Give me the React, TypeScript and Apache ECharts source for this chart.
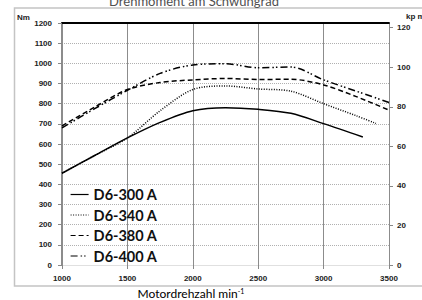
import React, { useEffect, useRef } from "react";
import * as echarts from "echarts";

const titleText = "Drehmoment am Schwungrad";
const xName = "Motordrehzahl min";
const leftUnit = "Nm";
const rightUnit = "kp m";

const rpm300 = [1000, 1250, 1500, 1750, 2000, 2250, 2500, 2750, 3000, 3300];
const nm300 = [455, 543, 630, 707, 765, 780, 772, 752, 701, 635];

const rpm340 = [1000, 1250, 1500, 1750, 2000, 2250, 2500, 2750, 3000, 3250, 3400];
const nm340 = [455, 543, 630, 765, 870, 888, 873, 862, 800, 740, 702];

const rpm380 = [1000, 1250, 1500, 1750, 2000, 2250, 2500, 2750, 3000, 3250, 3500];
const nm380 = [690, 783, 870, 905, 918, 925, 920, 921, 893, 835, 768];

const rpm400 = [1000, 1250, 1500, 1750, 2000, 2250, 2500, 2750, 3000, 3250, 3500];
const nm400 = [680, 775, 866, 950, 992, 998, 978, 982, 918, 862, 806];

const names = ["D6-300 A", "D6-340 A", "D6-380 A", "D6-400 A"];
const kpTicks = [0, 20, 40, 60, 80, 100, 120];
const NM_PER_KPM = 9.80665;

const pairs = (xs: number[], ys: number[]) => xs.map((x, i) => [x, ys[i]]);

export default function App() {
  const ref = useRef<HTMLDivElement>(null);
  useEffect(() => {
    if (!ref.current) return;
    const chart = echarts.init(ref.current, null, { renderer: "svg" });
    const font = "Liberation Sans";
    const plain = (v: number) => String(Math.round(v));
    const tickLabel = { fontFamily: font, fontWeight: "bold" as const, fontSize: 8, color: "#222", formatter: plain };
    const lineBase = { color: "#000", width: 1.5 };
    const mk = (name: string, data: number[][], type: any) => ({
      name,
      type: "line",
      data,
      symbol: "none",
      smooth: 0.3,
      xAxisIndex: 0,
      yAxisIndex: 0,
      lineStyle: { ...lineBase, type },
      itemStyle: { color: "#000" },
    });
    chart.setOption({
      animation: false,
      backgroundColor: "#fff",
      grid: { left: 62, right: 33, top: 23, bottom: 35 },
      xAxis: [
        {
          type: "value",
          min: 1000,
          max: 3500,
          interval: 500,
          axisLine: { show: true, lineStyle: { color: "#e0e0e0", width: 1 } },
          axisTick: { show: true, length: 4, lineStyle: { color: "#888" } },
          axisLabel: { ...tickLabel, margin: 9 },
          splitLine: { show: true, lineStyle: { color: "#8c8c8c", width: 1 } },
        },
        {
          type: "value",
          position: "top",
          min: 1000,
          max: 3500,
          axisLine: { show: true, onZero: false, lineStyle: { color: "#000", width: 1.8 } },
          axisTick: { show: false },
          axisLabel: { show: false },
          splitLine: { show: false },
        },
      ],
      yAxis: [
        {
          type: "value",
          min: 0,
          max: 1200,
          interval: 100,
          axisLine: { show: true, lineStyle: { color: "#8c8c8c", width: 2 } },
          axisTick: { show: true, length: 4, lineStyle: { color: "#888" } },
          axisLabel: { ...tickLabel, margin: 10 },
          splitLine: { show: true, lineStyle: { color: "#b0b0b0", width: 1, type: [1, 1] } },
        },
        {
          type: "value",
          position: "right",
          min: 0,
          max: 1200 / NM_PER_KPM,
          axisLine: { show: true, lineStyle: { color: "#8c8c8c", width: 1 } },
          axisTick: { show: true, length: 4, customValues: kpTicks, lineStyle: { color: "#888" } },
          axisLabel: { ...tickLabel, margin: 8, customValues: kpTicks },
          splitLine: { show: false },
        },
      ],
      legend: {
        orient: "vertical",
        left: 70,
        top: 187,
        padding: 0,
        itemWidth: 18,
        itemHeight: 14,
        itemGap: 5.5,
        data: names,
        itemStyle: { opacity: 0 },
        lineStyle: { width: 1.2 },
        textStyle: { fontFamily: "Lato", fontWeight: "bold", fontSize: 14.5, color: "#111", lineHeight: 14 },
      },
      series: [
        mk(names[0], pairs(rpm300, nm300), "solid"),
        mk(names[1], pairs(rpm340, nm340), [1, 1.5]),
        mk(names[2], pairs(rpm380, nm380), [5, 3]),
        mk(names[3], pairs(rpm400, nm400), [7, 3, 1.5, 2, 1.5, 3]),
      ],
      graphic: [
        {
          type: "rect",
          shape: { x: 14.5, y: 8, width: 430, height: 278 },
          style: { fill: "none", stroke: "#c4c4c4", lineWidth: 1.5 },
          silent: true,
          z: -1,
        },
        {
          type: "text",
          x: 194,
          y: 1,
          style: { text: titleText, fontFamily: "Lato", fontSize: 13, fill: "#505050", align: "center", verticalAlign: "middle" },
        },
        {
          type: "text",
          x: 191,
          y: 293,
          style: {
            text: "{a|" + xName + "}{b|-1}",
            align: "center",
            verticalAlign: "middle",
            rich: {
              a: { fontFamily: "Lato", fontSize: 12, color: "#404040" },
              b: { fontFamily: "Lato", fontSize: 7, color: "#404040", verticalAlign: "top", padding: [0, 0, 4, 0] },
            },
          },
        },
        {
          type: "text",
          x: 17,
          y: 17,
          style: { text: leftUnit, fontFamily: font, fontWeight: "bold", fontSize: 8, fill: "#222", verticalAlign: "middle" },
        },
        {
          type: "text",
          x: 406,
          y: 16,
          style: { text: rightUnit, fontFamily: font, fontWeight: "bold", fontSize: 8, fill: "#222", verticalAlign: "middle" },
        },
      ],
    });
    return () => chart.dispose();
  }, []);
  return <div ref={ref} style={{ width: 422, height: 300, position: "absolute", left: 0, top: 0 }} />;
}
